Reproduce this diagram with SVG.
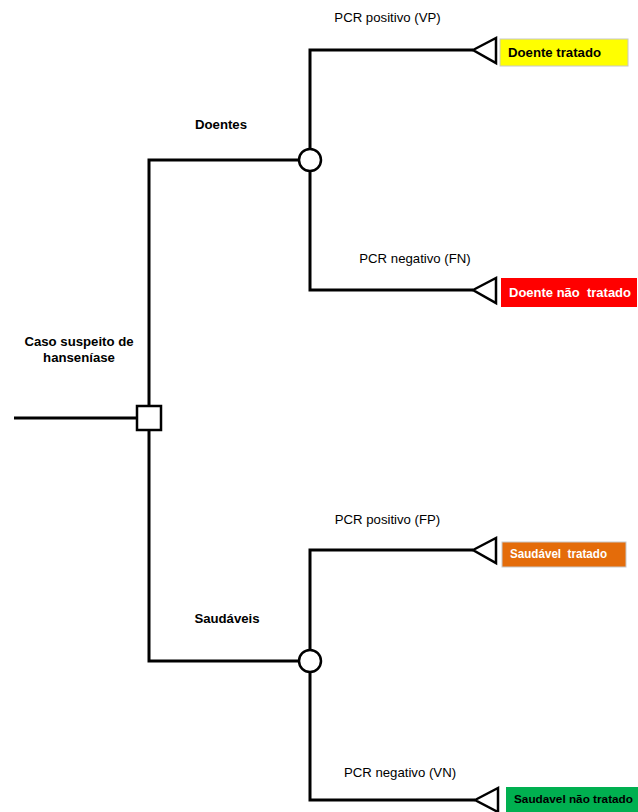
<svg xmlns="http://www.w3.org/2000/svg" width="638" height="812" viewBox="0 0 638 812">
<style>
.ln{fill:none;stroke:#000;stroke-width:3}
.nd{fill:#fff;stroke:#000;stroke-width:2.5}
.lb{font-family:"Liberation Sans",Arial,sans-serif;font-size:13.2px;fill:#000}
.b{font-weight:bold}
.bt{font-family:"Liberation Sans",Arial,sans-serif;font-size:12.8px;font-weight:bold;white-space:pre}
</style>
<rect width="638" height="812" fill="#fff"/>
<g id="connectors">
<path class="ln" d="M14,418H137"/>
<path class="ln" d="M149,406V160H299"/>
<path class="ln" d="M149,430V661H299"/>
<path class="ln" d="M310,149V50H473"/>
<path class="ln" d="M310,171V290H473"/>
<path class="ln" d="M310,650V550H473"/>
<path class="ln" d="M310,672V800H475"/>
</g>
<g id="root"><rect class="nd" x="137" y="406" width="24" height="24"/>
<text class="lb b" x="79" y="346" text-anchor="middle">Caso suspeito de</text>
<text class="lb b" x="79" y="362" text-anchor="middle">hanseníase</text></g>
<g id="chance-doentes"><circle class="nd" cx="310" cy="160" r="11"/>
<text class="lb b" x="221" y="129" text-anchor="middle">Doentes</text></g>
<g id="chance-saudaveis"><circle class="nd" cx="310" cy="661" r="11"/>
<text class="lb b" x="227" y="623" text-anchor="middle">Saudáveis</text></g>
<g id="vp"><text class="lb" x="387.5" y="22" text-anchor="middle">PCR positivo (VP)</text>
<polygon class="nd" points="473,50 496,38 496,63"/>
<rect x="500" y="39" width="128" height="27" fill="#ffff00" stroke="#c8c8c8"/>
<text class="bt" x="508" y="57" fill="#000" textLength="93" lengthAdjust="spacingAndGlyphs">Doente tratado</text></g>
<g id="fn"><text class="lb" x="415" y="263" text-anchor="middle">PCR negativo (FN)</text>
<polygon class="nd" points="473,290 496,278 496,303"/>
<rect x="501" y="278" width="136" height="29" fill="#ff0000"/>
<text class="bt" x="509" y="297" fill="#fff" textLength="122" lengthAdjust="spacingAndGlyphs">Doente não  tratado</text></g>
<g id="fp"><text class="lb" x="387.5" y="524" text-anchor="middle">PCR positivo (FP)</text>
<polygon class="nd" points="473,550 496,538 496,563"/>
<rect x="502" y="542" width="124" height="25" fill="#e46c0a" stroke="#c8c8c8"/>
<text class="bt" x="510" y="558" fill="#fff" textLength="97" lengthAdjust="spacingAndGlyphs">Saudável  tratado</text></g>
<g id="vn"><text class="lb" x="400" y="777" text-anchor="middle">PCR negativo (VN)</text>
<polygon class="nd" points="475,800 498,788 498,812"/>
<rect x="506" y="787" width="132" height="25" fill="#00b050"/>
<text class="bt" x="514" y="803" fill="#000" style="font-size:11.4px" textLength="119" lengthAdjust="spacingAndGlyphs">Saudavel não tratado</text></g>
</svg>
